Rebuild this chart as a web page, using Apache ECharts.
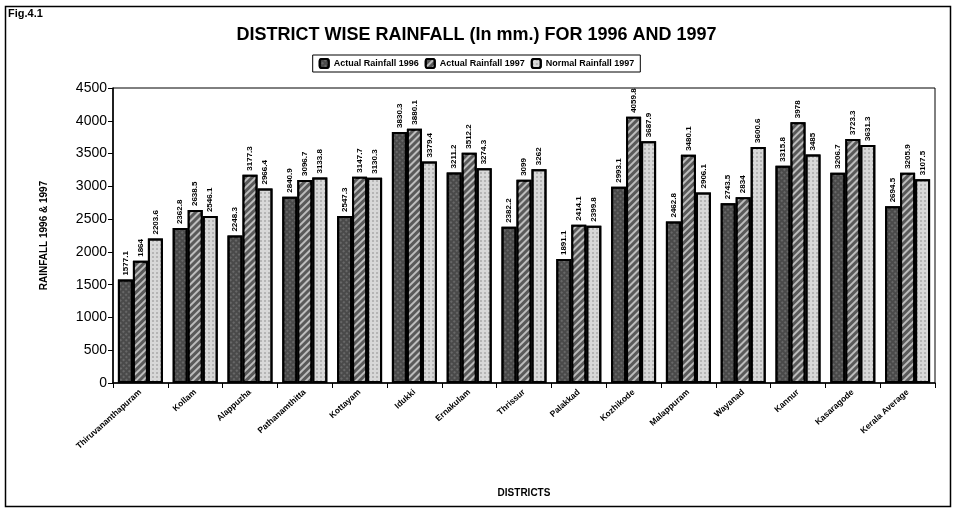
<!DOCTYPE html>
<html>
<head>
<meta charset="utf-8">
<script src="https://cdn.jsdelivr.net/npm/echarts@6/dist/echarts.min.js"></script>
<style>
  html, body { margin: 0; padding: 0; background: #fff; }
  #chart { width: 953px; height: 512px; }
</style>
</head>
<body>
<div id="chart"></div>
<script>
// values (mm)
const districts = ['Thiruvananthapuram', 'Kollam', 'Alappuzha', 'Pathanamthitta', 'Kottayam', 'Idukki',
  'Ernakulam', 'Thrissur', 'Palakkad', 'Kozhikode', 'Malappuram', 'Wayanad', 'Kannur', 'Kasaragode', 'Kerala Average'];
const actual1996 = [1577.1, 2362.8, 2248.3, 2840.9, 2547.3, 3830.3, 3211.2, 2382.2, 1891.1, 2993.1, 2462.8, 2743.5, 3315.8, 3206.7, 2694.5];
const actual1997 = [1864.0, 2638.5, 3177.3, 3096.7, 3147.7, 3880.1, 3512.2, 3099, 2414.1, 4059.8, 3480.1, 2834, 3978.0, 3723.3, 3205.9];
const normal1997 = [2203.6, 2546.1, 2966.4, 3133.8, 3130.3, 3379.4, 3274.3, 3262, 2399.8, 3687.9, 2906.1, 3600.6, 3485, 3631.3, 3107.5];
const yTicks = [0, 500, 1000, 1500, 2000, 2500, 3000, 3500, 4000, 4500];

const chart = echarts.init(document.getElementById('chart'));

function barSeries(name, data, color, decal) {
  return {
    name: name,
    type: 'bar',
    data: data,
    barWidth: 15,
    barGap: '0%',
    itemStyle: {
      color: color,
      borderColor: '#000',
      borderWidth: 2,
      decal: decal
    },
    label: {
      show: true,
      position: 'top',
      rotate: 90,
      align: 'left',
      verticalAlign: 'middle',
      distance: 4,
      fontSize: 8,
      fontWeight: 'bold',
      fontFamily: 'Liberation Sans',
      color: '#000',
      formatter: p => String(p.value)
    }
  };
}

const option = {
  backgroundColor: '#fff',
  animation: false,
  aria: { decal: { show: true } },
  title: {
    text: 'DISTRICT WISE RAINFALL (In mm.) FOR 1996 AND 1997',
    left: 'center',
    top: 21,
    textStyle: { fontSize: 18, fontWeight: 'bold', fontFamily: 'Liberation Sans', color: '#000' }
  },
  legend: {
    top: 55,
    left: 'center',
    itemWidth: 9,
    itemHeight: 9,
    itemGap: 6,
    padding: [3, 6],
    borderColor: '#000',
    borderWidth: 1,
    textStyle: { fontSize: 9, fontWeight: 'bold', fontFamily: 'Liberation Sans', color: '#000' },
    data: ['Actual Rainfall 1996', 'Actual Rainfall 1997', 'Normal Rainfall 1997']
  },
  graphic: [
    { type: 'rect', left: 3, top: 4, shape: { width: 945, height: 500 }, style: { fill: 'none', stroke: '#000', lineWidth: 1.5 } },
    { type: 'text', left: 8, top: 8, style: { text: 'Fig.4.1', fontSize: 11, fontWeight: 'bold', fontFamily: 'Liberation Sans', fill: '#000' } }
  ],
  grid: {
    left: 113, right: 18, top: 88, bottom: 129,
    show: true, borderColor: '#000', borderWidth: 1
  },
  xAxis: {
    type: 'category',
    data: districts,
    name: 'DISTRICTS',
    nameLocation: 'middle',
    nameGap: 105,
    nameTextStyle: { fontSize: 10, fontWeight: 'bold', fontFamily: 'Liberation Sans', color: '#000' },
    axisLine: { lineStyle: { color: '#000', width: 1.5 } },
    axisTick: { show: true, alignWithLabel: false, lineStyle: { color: '#000' } },
    axisLabel: {
      interval: 0,
      rotate: 42,
      fontSize: 8.5,
      fontWeight: 'bold',
      fontFamily: 'Liberation Sans',
      color: '#000',
      margin: 8
    }
  },
  yAxis: {
    type: 'value',
    min: yTicks[0],
    max: yTicks[yTicks.length - 1],
    interval: 500,
    name: 'RAINFALL 1996 & 1997',
    nameLocation: 'middle',
    nameGap: 64,
    nameTextStyle: { fontSize: 10, fontWeight: 'bold', fontFamily: 'Liberation Sans', color: '#000' },
    axisLine: { show: true, lineStyle: { color: '#000', width: 1.5 } },
    axisTick: { show: true, lineStyle: { color: '#000' } },
    splitLine: { show: false },
    axisLabel: { fontSize: 14, fontFamily: 'Liberation Sans', color: '#000', margin: 6, formatter: v => String(v) }
  },
  series: [
    barSeries('Actual Rainfall 1996', actual1996, '#4a4a4a',
      { symbol: 'rect', symbolSize: 0.6, color: 'rgba(255,255,255,0.55)', dashArrayX: [2, 2], dashArrayY: [2, 2], rotation: 0.78 }),
    barSeries('Actual Rainfall 1997', actual1997, '#5a5a5a',
      { symbol: 'rect', symbolSize: 1, color: 'rgba(255,255,255,0.6)', dashArrayX: [1, 0], dashArrayY: [2, 3], rotation: -0.78 }),
    barSeries('Normal Rainfall 1997', normal1997, '#d8d8d8',
      { symbol: 'circle', symbolSize: 0.7, color: 'rgba(0,0,0,0.45)', dashArrayX: [2, 2], dashArrayY: [2, 2], rotation: 0 })
  ]
};

chart.setOption(option);
</script>
</body>
</html>
